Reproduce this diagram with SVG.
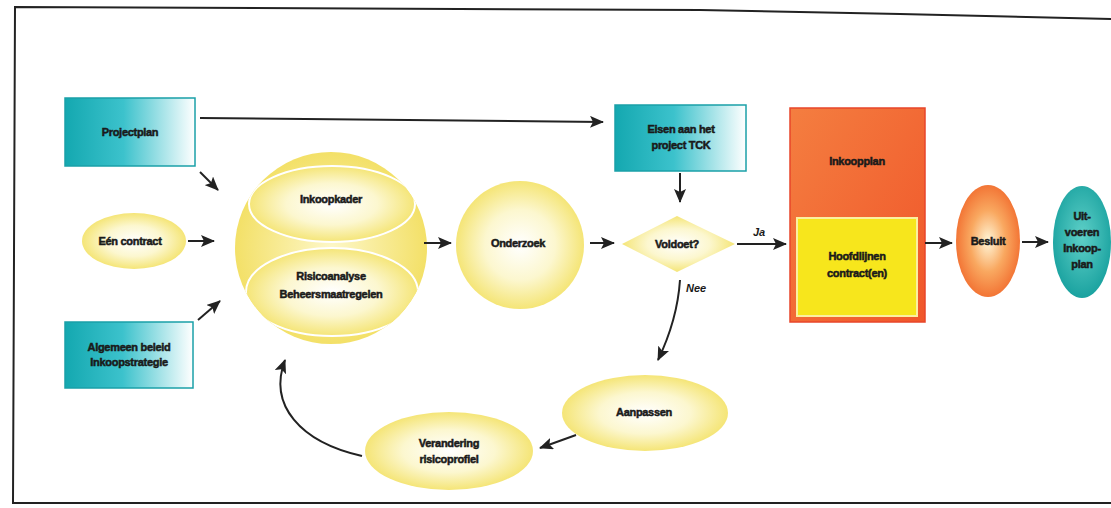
<svg xmlns="http://www.w3.org/2000/svg" width="1111" height="508" viewBox="0 0 1111 508">
<defs>
<linearGradient id="teal" x1="0" y1="0" x2="1" y2="0">
<stop offset="0" stop-color="#14a8b0"/><stop offset="0.45" stop-color="#3cc2cc"/><stop offset="1" stop-color="#ffffff"/>
</linearGradient>
<radialGradient id="yel" cx="0.5" cy="0.5" r="0.55">
<stop offset="0" stop-color="#ffffff"/><stop offset="0.5" stop-color="#fcf7cf"/><stop offset="1" stop-color="#f3e163"/>
</radialGradient>
<radialGradient id="yelBall" cx="0.5" cy="0.5" r="0.55">
<stop offset="0" stop-color="#fdf7c8"/><stop offset="1" stop-color="#f2de5e"/>
</radialGradient>
<radialGradient id="ora" cx="0.5" cy="0.5" r="0.55">
<stop offset="0" stop-color="#fff6d8"/><stop offset="0.5" stop-color="#f9a860"/><stop offset="1" stop-color="#f16a2c"/>
</radialGradient>
<radialGradient id="tealEl" cx="0.5" cy="0.45" r="0.6">
<stop offset="0" stop-color="#5fd0c8"/><stop offset="1" stop-color="#149e9c"/>
</radialGradient>
<linearGradient id="orRect" x1="0" y1="0" x2="1" y2="1">
<stop offset="0" stop-color="#f47e40"/><stop offset="1" stop-color="#f0562a"/>
</linearGradient>
<clipPath id="ballClip"><circle cx="331" cy="248" r="96"/></clipPath>
<marker id="ahB" markerWidth="14" markerHeight="12" refX="13" refY="6" orient="auto" markerUnits="userSpaceOnUse">
<path d="M0,0 L14,6 L0,12 L3,6 Z" fill="#222"/>
</marker>
</defs>
<style>
.t{font-family:"Liberation Sans",Arial,sans-serif;font-weight:bold;font-size:11px;fill:#1a1a1a;stroke:#1a1a1a;stroke-width:0.5px;text-anchor:middle;letter-spacing:-0.3px}
.lbl{font-family:"Liberation Sans",Arial,sans-serif;font-weight:bold;font-style:italic;font-size:11px;fill:#1a1a1a}
.c{fill:none;stroke:#222;stroke-width:2}
</style>
<rect width="1111" height="508" fill="#ffffff"/>
<path d="M1111,19 L900,14 L700,10 L15,7 L13,503 L1111,503" fill="none" stroke="#222" stroke-width="2"/>

<g id="projectplan">
<rect x="65" y="98" width="130" height="68" fill="url(#teal)" stroke="#1aa0a8" stroke-width="1.5"/>
<text class="t" x="130" y="136">Projectplan</text>
</g>
<g id="een-contract">
<ellipse cx="134" cy="241" rx="52" ry="28" fill="url(#yel)"/>
<text class="t" x="130" y="245">Eén contract</text>
</g>
<g id="algemeen-beleid">
<rect x="65" y="322" width="128" height="66" fill="url(#teal)" stroke="#1aa0a8" stroke-width="1.5"/>
<text class="t" x="129" y="351">Algemeen beleid</text>
<text class="t" x="129" y="366">Inkoopstrategie</text>
</g>
<g id="bal">
<circle cx="331" cy="248" r="96" fill="url(#yelBall)"/>
<g clip-path="url(#ballClip)">
<ellipse cx="332" cy="204" rx="83" ry="38" fill="url(#yel)" stroke="#ffffff" stroke-width="2"/>
<ellipse cx="332" cy="292" rx="86" ry="44" fill="url(#yel)" stroke="#ffffff" stroke-width="2"/>
</g>
<text class="t" x="331" y="203">Inkoopkader</text>
<text class="t" x="331" y="280">Risicoanalyse</text>
<text class="t" x="331" y="298">Beheersmaatregelen</text>
</g>
<g id="onderzoek">
<circle cx="520" cy="245" r="64" fill="url(#yel)"/>
<text class="t" x="518" y="247">Onderzoek</text>
</g>
<g id="eisen">
<rect x="615" y="105" width="131" height="66" fill="url(#teal)" stroke="#1aa0a8" stroke-width="1.5"/>
<text class="t" x="681" y="133">Eisen aan het</text>
<text class="t" x="681" y="149">project TCK</text>
</g>
<g id="voldoet">
<polygon points="622,244 677,216 735,244 677,272" fill="url(#yel)"/>
<text class="t" x="677" y="248">Voldoet?</text>
</g>
<g id="inkoopplan">
<rect x="790" y="108" width="135" height="214" fill="url(#orRect)" stroke="#e8462a" stroke-width="1.5"/>
<text class="t" x="857" y="165">Inkoopplan</text>
<rect x="797" y="218" width="120" height="98" fill="#f7e61c" stroke="#fbf0a0" stroke-width="2"/>
<text class="t" x="857" y="260">Hoofdlijnen</text>
<text class="t" x="857" y="277">contract(en)</text>
</g>
<g id="besluit">
<ellipse cx="988" cy="241" rx="32" ry="56" fill="url(#ora)"/>
<text class="t" x="988" y="245">Besluit</text>
</g>
<g id="uitvoeren">
<ellipse cx="1082" cy="242" rx="29" ry="56" fill="url(#tealEl)"/>
<text class="t" x="1082" y="220">Uit-</text>
<text class="t" x="1082" y="236">voeren</text>
<text class="t" x="1082" y="252">Inkoop-</text>
<text class="t" x="1082" y="268">plan</text>
</g>
<g id="aanpassen">
<ellipse cx="645" cy="413" rx="83" ry="38" fill="url(#yel)"/>
<text class="t" x="644" y="416">Aanpassen</text>
</g>
<g id="verandering">
<ellipse cx="449" cy="451" rx="84" ry="39" fill="url(#yel)"/>
<text class="t" x="449" y="447">Verandering</text>
<text class="t" x="449" y="463">risicoprofiel</text>
</g>

<g id="connectors">
<path class="c" d="M200,118 L603,122" marker-end="url(#ahB)"/>
<path class="c" d="M200,172 L218,190" marker-end="url(#ahB)"/>
<path class="c" d="M188,241 L214,241" marker-end="url(#ahB)"/>
<path class="c" d="M198,320 L220,301" marker-end="url(#ahB)"/>
<path class="c" d="M424,243 L451,243" marker-end="url(#ahB)"/>
<path class="c" d="M590,243 L614,243" marker-end="url(#ahB)"/>
<path class="c" d="M680,173 L680,202" marker-end="url(#ahB)"/>
<path class="c" d="M737,244 L786,244" marker-end="url(#ahB)"/>
<path class="c" d="M680,280 C678,310 670,335 658,360" marker-end="url(#ahB)"/>
<path class="c" d="M925,243 L952,243" marker-end="url(#ahB)"/>
<path class="c" d="M1022,242 L1048,242" marker-end="url(#ahB)"/>
<path class="c" d="M576,435 L540,448" marker-end="url(#ahB)"/>
<path class="c" d="M362,456 C300,442 268,405 285,360" marker-end="url(#ahB)"/>
<text class="lbl" x="753" y="236">Ja</text>
<text class="lbl" x="686" y="292">Nee</text>
</g>
</svg>
